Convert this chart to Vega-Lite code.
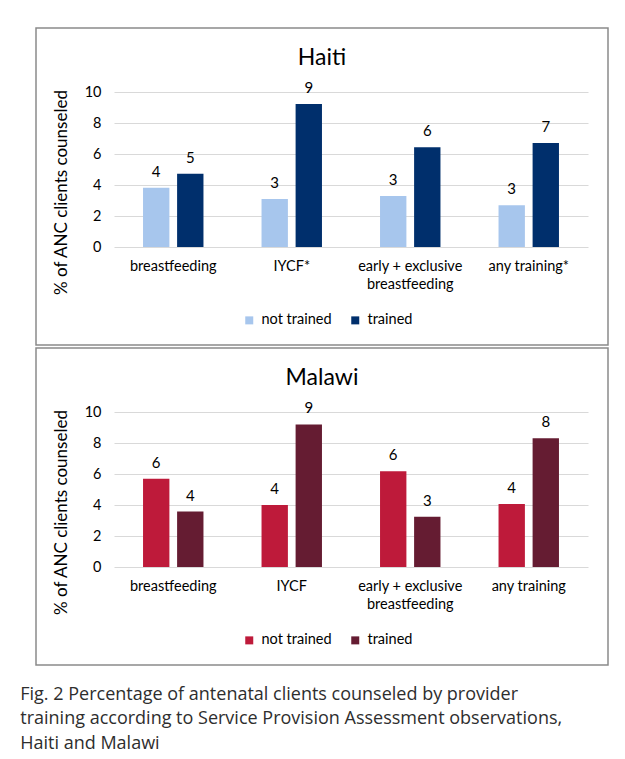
{
  "$schema": "https://vega.github.io/schema/vega-lite/v6.json",
  "background": "white",
  "padding": {"left": 20, "top": 27, "right": 18, "bottom": 5},
  "autosize": {"type": "pad"},
  "datasets": {
    "counsel": [
      {"country": "Haiti", "category": "breastfeeding", "group": "not trained", "value": 3.83},
      {"country": "Haiti", "category": "breastfeeding", "group": "trained", "value": 4.73},
      {"country": "Haiti", "category": "IYCF*", "group": "not trained", "value": 3.1},
      {"country": "Haiti", "category": "IYCF*", "group": "trained", "value": 9.23},
      {"country": "Haiti", "category": "early + exclusive breastfeeding", "group": "not trained", "value": 3.29},
      {"country": "Haiti", "category": "early + exclusive breastfeeding", "group": "trained", "value": 6.43},
      {"country": "Haiti", "category": "any training*", "group": "not trained", "value": 2.69},
      {"country": "Haiti", "category": "any training*", "group": "trained", "value": 6.71},
      {"country": "Malawi", "category": "breastfeeding", "group": "not trained", "value": 5.7},
      {"country": "Malawi", "category": "breastfeeding", "group": "trained", "value": 3.58},
      {"country": "Malawi", "category": "IYCF", "group": "not trained", "value": 4.0},
      {"country": "Malawi", "category": "IYCF", "group": "trained", "value": 9.2},
      {"country": "Malawi", "category": "early + exclusive breastfeeding", "group": "not trained", "value": 6.18},
      {"country": "Malawi", "category": "early + exclusive breastfeeding", "group": "trained", "value": 3.24},
      {"country": "Malawi", "category": "any training", "group": "not trained", "value": 4.06},
      {"country": "Malawi", "category": "any training", "group": "trained", "value": 8.31}
    ]
  },
  "data": {"name": "counsel"},
  "spacing": 1,
  "title": {
    "text": ["Fig. 2 Percentage of antenatal clients counseled by provider", "training according to Service Provision Assessment observations,", "Haiti and Malawi"],
    "orient": "bottom",
    "anchor": "start",
    "frame": "bounds",
    "dx": -15,
    "offset": 20,
    "baseline": "top",
    "font": "Open Sans",
    "fontSize": 18,
    "fontWeight": "normal",
    "color": "#2e2e2e",
    "lineHeight": 24.5
  },
  "resolve": {
    "scale": {"color": "independent", "x": "independent", "y": "independent"},
    "legend": {"color": "independent"}
  },
  "vconcat": [
    {
      "width": 572,
      "height": 317,
      "title": {"text": "Haiti", "offset": -42},
      "transform": [{"filter": "datum.country === 'Haiti'"}],
      "encoding": {
        "x": {
          "field": "category", "type": "nominal", "sort": null,
          "scale": {"range": [78, 552], "paddingInner": 0.49, "paddingOuter": 0.245},
          "axis": {
            "title": null, "orient": "bottom", "offset": -98, "domain": false, "ticks": false,
            "labelPadding": 12, "labelAngle": 0, "labelLineHeight": 18,
            "labelExpr": "datum.label == 'early + exclusive breastfeeding' ? ['early + exclusive', 'breastfeeding'] : datum.label"
          }
        },
        "xOffset": {
          "field": "group", "type": "nominal", "sort": ["not trained", "trained"],
          "scale": {"paddingInner": 0.226, "paddingOuter": 0}
        },
        "y": {
          "field": "value", "type": "quantitative",
          "scale": {"domain": [0, 10], "range": [219, 64], "nice": false},
          "axis": {
            "title": "% of ANC clients counseled", "values": [0, 2, 4, 6, 8, 10],
            "offset": -78, "domain": false, "ticks": false, "labelPadding": 13,
            "grid": true, "titleX": -53, "titleY": 164, "titleAngle": -90,
            "titleAlign": "center", "titleBaseline": "middle"
          }
        }
      },
      "layer": [
        {
          "mark": {"type": "bar"},
          "encoding": {
            "color": {
              "field": "group", "type": "nominal",
              "scale": {"domain": ["not trained", "trained"], "range": ["#A7C6ED", "#002F6C"]},
              "legend": {"orient": "none", "legendX": 206, "legendY": 285, "direction": "horizontal", "title": null}
            }
          }
        },
        {
          "mark": {"type": "text", "baseline": "alphabetic", "dy": -11, "fontSize": 15, "font": "Lato", "color": "#000000"},
          "encoding": {"text": {"field": "value", "type": "quantitative", "format": ".0f"}}
        }
      ]
    },
    {
      "width": 572,
      "height": 317,
      "title": {"text": "Malawi", "offset": -42},
      "transform": [{"filter": "datum.country === 'Malawi'"}],
      "encoding": {
        "x": {
          "field": "category", "type": "nominal", "sort": null,
          "scale": {"range": [78, 552], "paddingInner": 0.49, "paddingOuter": 0.245},
          "axis": {
            "title": null, "orient": "bottom", "offset": -98, "domain": false, "ticks": false,
            "labelPadding": 12, "labelAngle": 0, "labelLineHeight": 18,
            "labelExpr": "datum.label == 'early + exclusive breastfeeding' ? ['early + exclusive', 'breastfeeding'] : datum.label"
          }
        },
        "xOffset": {
          "field": "group", "type": "nominal", "sort": ["not trained", "trained"],
          "scale": {"paddingInner": 0.226, "paddingOuter": 0}
        },
        "y": {
          "field": "value", "type": "quantitative",
          "scale": {"domain": [0, 10], "range": [219, 64], "nice": false},
          "axis": {
            "title": "% of ANC clients counseled", "values": [0, 2, 4, 6, 8, 10],
            "offset": -78, "domain": false, "ticks": false, "labelPadding": 13,
            "grid": true, "titleX": -53, "titleY": 164, "titleAngle": -90,
            "titleAlign": "center", "titleBaseline": "middle"
          }
        }
      },
      "layer": [
        {
          "mark": {"type": "bar"},
          "encoding": {
            "color": {
              "field": "group", "type": "nominal",
              "scale": {"domain": ["not trained", "trained"], "range": ["#BE1A3A", "#651C32"]},
              "legend": {"orient": "none", "legendX": 206, "legendY": 285, "direction": "horizontal", "title": null}
            }
          }
        },
        {
          "mark": {"type": "text", "baseline": "alphabetic", "dy": -11, "fontSize": 15, "font": "Lato", "color": "#000000"},
          "encoding": {"text": {"field": "value", "type": "quantitative", "format": ".0f"}}
        }
      ]
    }
  ],
  "config": {
    "font": "Lato",
    "view": {"stroke": "#8a8a8a", "strokeWidth": 1.5, "fill": "white"},
    "axis": {
      "labelFont": "Lato", "labelFontSize": 14.5, "labelColor": "#000000",
      "titleFont": "Lato", "titleFontSize": 17, "titleFontWeight": "normal", "titleColor": "#000000",
      "gridColor": "#d9d9d9", "gridWidth": 1
    },
    "legend": {
      "labelFont": "Lato", "labelFontSize": 14.5, "labelColor": "#000000",
      "symbolType": "square", "symbolSize": 64, "symbolStrokeWidth": 0,
      "labelOffset": 5, "columnPadding": 16
    },
    "title": {"font": "Lato", "fontSize": 23, "fontWeight": "normal", "color": "#000000", "anchor": "middle"}
  }
}
